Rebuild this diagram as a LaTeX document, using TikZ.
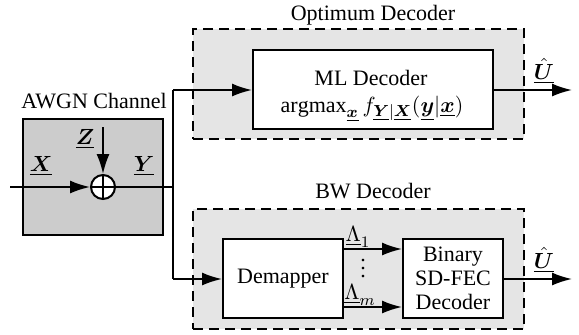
\documentclass[tikz,border=0pt]{standalone}
\usepackage{amsmath,bm}
\usepackage{fontspec}
\setmainfont{Liberation Serif}
\usetikzlibrary{arrows.meta}
\newcommand{\uv}[1]{\underline{\bm{#1}}}
\begin{document}
\begin{tikzpicture}[x=0.5pt,y=-0.5pt,
  font=\fontsize{11}{13.5}\selectfont,
  blk/.style={draw,line width=1pt,fill=white,rectangle,inner sep=0pt,align=center},
  grp/.style={draw,line width=1.2pt,dash pattern=on 5pt off 3pt,fill=gray!20,rectangle,inner sep=0pt},
  conn/.style={line width=0.9pt},
  arr/.style={line width=0.9pt,-{Latex[length=10pt,width=6.5pt]}}]
\useasboundingbox (0,0) rectangle (579,334);
% AWGN channel
\node[draw,line width=1pt,fill=gray!40,minimum width=70pt,minimum height=58pt,inner sep=0pt] (awgn) at (93,177) {};
\node[anchor=base] (awgnlbl) at (94,108) {AWGN Channel};
\node[draw,circle,line width=1pt,fill=white,minimum size=12pt,inner sep=0pt] (sum) at (103,187) {};
\draw[line width=1pt] (sum.north) -- (sum.south) (sum.west) -- (sum.east);
\coordinate (in) at (10,187);
\coordinate (ztop) at (103,127);
\coordinate (j) at (173,187);
\coordinate (jt) at (173,90);
\coordinate (jb) at (173,279);
\draw[arr] (in) -- (sum.west);
\draw[arr] (ztop) -- (sum.north);
\draw[conn] (sum.east) -- (j);
\node (xl) at (41,166) {$\uv{X}$};
\node (zl) at (85,139) {$\uv{Z}$};
\node (yl) at (144,166) {$\uv{Y}$};
% Optimum decoder
\node[grp,minimum width=165.5pt,minimum height=55pt] (opt) at (358.5,84) {};
\node[anchor=base] (optlbl) at (373,20) {Optimum Decoder};
\node[blk,minimum width=120pt,minimum height=39.5pt] (ml) at (373,89.5) {};
\node[anchor=base,inner sep=0pt] (mlt1) at (371,85) {ML Decoder};
\node[anchor=base,inner sep=0pt] (mlt2) at (372,112) {$\mathrm{argmax}_{\uv{x}}\, f_{\uv{Y}|\uv{X}}(\uv{y}|\uv{x})$};
\coordinate (mlout) at (572,90);
\draw[arr] (ml.east |- mlout) -- (mlout);
\node[inner sep=1pt] (u1) at (544,71) {$\hat{\uv{U}}$};
% BW decoder
\node[grp,minimum width=165.5pt,minimum height=60pt] (bw) at (358.5,269) {};
\node[anchor=base] (bwlbl) at (373,198) {BW Decoder};
\node[blk,minimum width=60pt,minimum height=39.5pt] (dem) at (283,278.5) {Demapper};
\node[blk,minimum width=50pt,minimum height=39.5pt] (fec) at (453,278.5) {Binary\\[-1.5pt]SD-FEC\\[-1.5pt]Decoder};
\coordinate (bwout) at (572,279);
\draw[arr] (fec.east |- bwout) -- (bwout);
\node[inner sep=1pt] (u2) at (544,260) {$\hat{\uv{U}}$};
\coordinate (l1) at (343,249);
\coordinate (lm) at (343,307);
\draw[arr] (l1) -- (fec.west |- l1);
\draw[arr] (lm) -- (fec.west |- lm);
\node[inner sep=1pt] (l1l) at (358,237) {$\underline{\Lambda}_1$};
\node[inner sep=1pt] (lml) at (360,295) {$\underline{\Lambda}_m$};
\node[inner sep=0pt] (dots) at (363,263) {$\vdots$};
% junction
\draw[conn] (jt) -- (jb);
\draw[arr] (jt) -- (ml.west |- jt);
\draw[arr] (jb) -- (dem.west |- jb);
\end{tikzpicture}
\end{document}
